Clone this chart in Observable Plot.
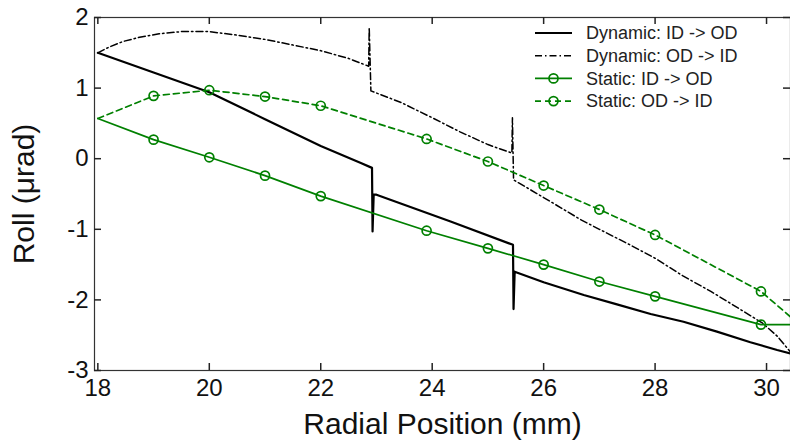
<!DOCTYPE html>
<html><head><meta charset="utf-8">
<script src="https://cdn.jsdelivr.net/npm/d3@7"></script>
<script src="https://cdn.jsdelivr.net/npm/@observablehq/plot@0.6"></script>
<style>
body{margin:0;background:#fff;font-family:"Liberation Sans",Arial,sans-serif;}
#wrap{position:relative;width:790px;height:441px;}
#legend{position:absolute;left:530px;top:22px;}
#legend text{font-family:"Liberation Sans",Arial,sans-serif;font-size:18px;fill:#222;}
</style></head><body><div id="wrap"></div>
<script>
// ---- data ----
const xTicks = [18, 20, 22, 24, 26, 28, 30];
const yTicks = [-3, -2, -1, 0, 1, 2];
const xDomain = [17.94, 30.43];
const yDomain = [-3, 2];

const seriesNames = ["Dynamic: ID -> OD", "Dynamic: OD -> ID", "Static: ID -> OD", "Static: OD -> ID"];

const dynIdOdX = [18, 19, 20, 21, 22, 22.72, 22.92, 22.93, 22.95, 23.0, 24.33, 25.45, 25.46, 25.48, 26, 26.72, 27.3, 27.92, 28.51, 29.11, 29.71, 30.19, 30.43];
const dynIdOdY = [1.5, 1.22, 0.94, 0.56, 0.18, -0.06, -0.13, -1.03, -0.51, -0.51, -0.89, -1.22, -2.13, -1.6, -1.75, -1.93, -2.06, -2.2, -2.31, -2.45, -2.6, -2.71, -2.76];

const dynOdIdX = [18, 18.2, 18.45, 18.75, 19.1, 19.5, 20, 20.5, 21, 21.5, 22, 22.5, 22.86, 22.87, 22.9, 23.43, 24, 24.5, 25, 25.43, 25.44, 25.46, 26, 26.68, 27, 27.5, 28, 28.5, 29, 29.5, 29.93, 30.2, 30.43];
const dynOdIdY = [1.5, 1.58, 1.66, 1.72, 1.77, 1.8, 1.8, 1.75, 1.69, 1.61, 1.53, 1.42, 1.31, 1.86, 0.96, 0.8, 0.58, 0.38, 0.2, 0.08, 0.58, -0.3, -0.55, -0.87, -1.0, -1.2, -1.41, -1.66, -1.88, -2.12, -2.33, -2.52, -2.74];

const staticX = [18, 19, 20, 21, 22, 23.9, 25, 26, 27, 28, 29.9, 30.43];
const statIdOdY = [0.57, 0.27, 0.02, -0.24, -0.53, -1.02, -1.27, -1.5, -1.74, -1.95, -2.35, -2.35];
const statOdIdY = [0.57, 0.89, 0.97, 0.88, 0.75, 0.28, -0.04, -0.38, -0.72, -1.08, -1.88, -2.24];
// markers are drawn at the measured points only (not at the line's end points)
const markerIdx = [1, 2, 3, 4, 5, 6, 7, 8, 9, 10];

// ---- build tables ----
const toRows = (xs, ys) => xs.map((x, i) => ({x, y: ys[i]}));
const dynIdOd = toRows(dynIdOdX, dynIdOdY);
const dynOdId = toRows(dynOdIdX, dynOdIdY);
const statIdOd = toRows(staticX, statIdOdY);
const statOdId = toRows(staticX, statOdIdY);
const statIdOdM = markerIdx.map(i => statIdOd[i]);
const statOdIdM = markerIdx.map(i => statOdId[i]);

const GREEN = "#008000";
const AX = "#333";
const fmt = d => String(d);

const W = 790, H = 441, ML = 94, MR = 0, MT = 17, MB = 71;
const TICK = 7; // inward tick length in px
// tick lengths expressed in data units of the scales
const tx = TICK * (xDomain[1] - xDomain[0]) / (W - ML - MR);
const ty = TICK * (yDomain[1] - yDomain[0]) / (H - MT - MB);

const tickStyle = {stroke: "#222", strokeWidth: 1.5};

const chart = Plot.plot({
  width: W, height: H,
  marginLeft: ML, marginRight: MR, marginTop: MT, marginBottom: MB,
  style: {fontFamily: "'Liberation Sans', Arial, sans-serif", background: "#fff", color: "#111"},
  x: {domain: xDomain},
  y: {domain: yDomain},
  marks: [
    Plot.line(dynOdId, {x: "x", y: "y", stroke: "#000", strokeWidth: 1.5, strokeDasharray: "7,3,1.5,3", clip: true}),
    Plot.line(dynIdOd, {x: "x", y: "y", stroke: "#000", strokeWidth: 2.2, clip: true}),
    Plot.line(statOdId, {x: "x", y: "y", stroke: GREEN, strokeWidth: 1.7, strokeDasharray: "6,4", clip: true}),
    Plot.line(statIdOd, {x: "x", y: "y", stroke: GREEN, strokeWidth: 1.7, clip: true}),
    Plot.dot(statOdIdM, {x: "x", y: "y", r: 4.5, stroke: GREEN, strokeWidth: 1.7, fill: "none"}),
    Plot.dot(statIdOdM, {x: "x", y: "y", r: 4.5, stroke: GREEN, strokeWidth: 1.7, fill: "none"}),
    Plot.frame({stroke: AX, strokeWidth: 1.2}),
    // inward ticks on all four sides
    Plot.ruleX(xTicks, {x: d => d, y1: yDomain[0], y2: yDomain[0] + ty, ...tickStyle}),
    Plot.ruleX(xTicks, {x: d => d, y1: yDomain[1], y2: yDomain[1] - ty, ...tickStyle}),
    Plot.ruleY(yTicks, {y: d => d, x1: xDomain[0], x2: xDomain[0] + tx, ...tickStyle}),
    Plot.ruleY(yTicks, {y: d => d, x1: xDomain[1], x2: xDomain[1] - tx, ...tickStyle}),
    Plot.axisX({ticks: xTicks, tickFormat: fmt, tickSize: 0, tickPadding: 8, fontSize: 24, fill: "#111",
      label: "Radial Position (mm)", labelAnchor: "center", labelOffset: 63, labelArrow: "none"}),
    Plot.axisY({ticks: yTicks, tickFormat: fmt, tickSize: 0, tickPadding: 6, fontSize: 24, fill: "#111",
      label: "Roll (\u03bcrad)", labelAnchor: "center", labelOffset: 82, labelArrow: "none"})
  ]
});
// axis label font size
chart.querySelectorAll("g[aria-label='x-axis label'], g[aria-label='y-axis label']").forEach(g => g.setAttribute("font-size", 30));
document.getElementById("wrap").appendChild(chart);

// ---- legend (inside the axes, top right) ----
const ns = "http://www.w3.org/2000/svg";
const leg = document.createElementNS(ns, "svg");
leg.setAttribute("id", "legend");
leg.setAttribute("width", 250); leg.setAttribute("height", 92);
const styles = [
  {stroke: "#000", w: 2.2, dash: null, marker: false},
  {stroke: "#000", w: 1.5, dash: "7,3,1.5,3", marker: false},
  {stroke: GREEN, w: 1.7, dash: null, marker: true},
  {stroke: GREEN, w: 1.7, dash: "6,4", marker: true}
];
seriesNames.forEach((name, i) => {
  const cy = 11 + i * 22.7;
  const s = styles[i];
  const ln = document.createElementNS(ns, "line");
  ln.setAttribute("x1", 5); ln.setAttribute("x2", 42); ln.setAttribute("y1", cy); ln.setAttribute("y2", cy);
  ln.setAttribute("stroke", s.stroke); ln.setAttribute("stroke-width", s.w);
  if (s.dash) ln.setAttribute("stroke-dasharray", s.dash);
  leg.appendChild(ln);
  if (s.marker) {
    const c = document.createElementNS(ns, "circle");
    c.setAttribute("cx", 23.5); c.setAttribute("cy", cy); c.setAttribute("r", 4.5);
    c.setAttribute("fill", "none"); c.setAttribute("stroke", s.stroke); c.setAttribute("stroke-width", 1.7);
    leg.appendChild(c);
  }
  const t = document.createElementNS(ns, "text");
  t.setAttribute("x", 56); t.setAttribute("y", cy); t.setAttribute("dy", "0.35em");
  t.textContent = name;
  leg.appendChild(t);
});
document.getElementById("wrap").appendChild(leg);
</script>
</body></html>
